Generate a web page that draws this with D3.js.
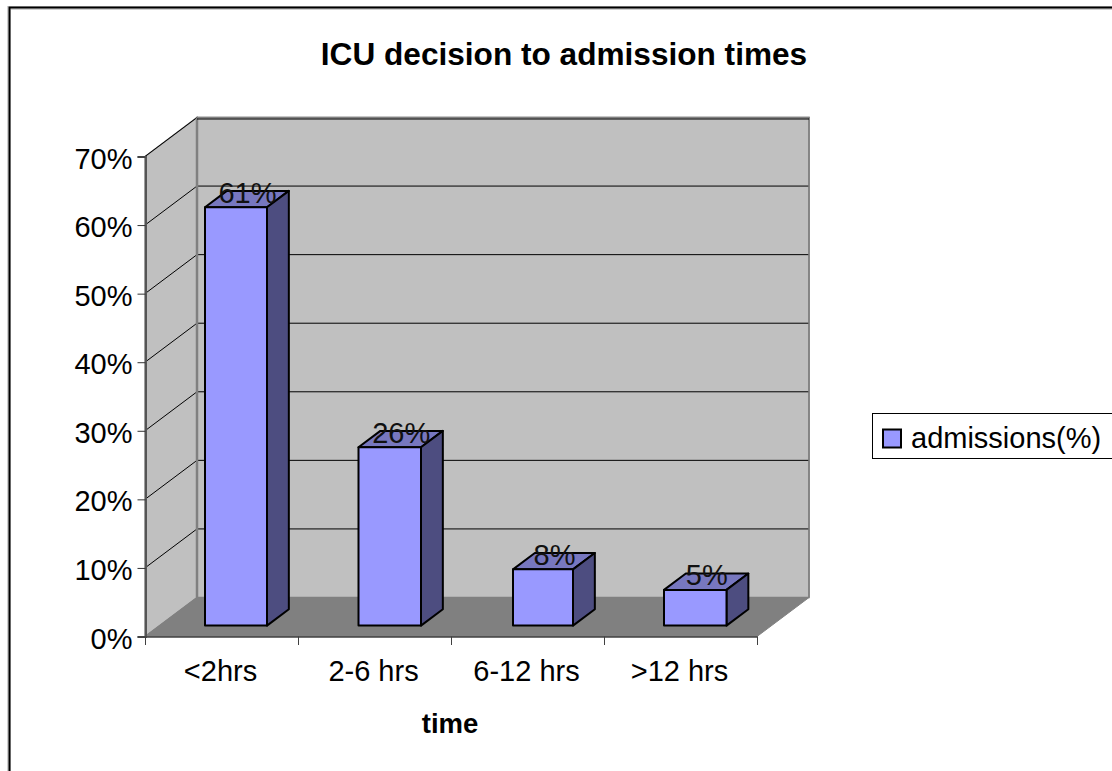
<!DOCTYPE html>
<html><head><meta charset="utf-8">
<style>html,body{margin:0;padding:0;background:#fff}svg{display:block}text{font-family:"Liberation Sans",Arial,sans-serif;fill:#000}</style>
<script src="https://cdn.jsdelivr.net/npm/d3@7/dist/d3.min.js"></script>
</head><body><svg id="c" width="1112" height="771"></svg>
<script>
const categories = ["<2hrs","2-6 hrs","6-12 hrs",">12 hrs"];
const admissions = [61,26,8.2,5.2];
const valueLabels = ["61%","26%","8%","5%"];
const yTicks = [0,10,20,30,40,50,60,70];
const titleText = "ICU decision to admission times";
const xTitle = "time";
const seriesName = "admissions(%)";

const svg = d3.select("#c");
const y = d3.scaleLinear().domain([0,70]).range([636.5,156.5]);
const x = d3.scaleBand().domain(categories).range([145,757]);
const dx = 52, dy = -39;
const line = d3.line();
const P = (px,v,z)=>[px+dx*z, y(v)+dy*z];
const X0=145,X1=757;
const FONT='"Liberation Sans",Arial,sans-serif';

// frame
svg.append("path").attr("d","M9,771V8H1112").attr("fill","none").attr("stroke","#d0d0d0").attr("stroke-width",4);
svg.append("path").attr("d","M9.5,771V7.5H1112").attr("fill","none").attr("stroke","#000").attr("stroke-width",2);

// walls
const wallCol="#c0c0c0", edge="#808080";
svg.append("path").attr("d",line([P(X0,0,1),P(X0,70,1),P(X1,70,1),P(X1,0,1)])+"Z").attr("fill",wallCol).attr("stroke",edge).attr("stroke-width",1.5);
svg.append("path").attr("d",line([P(X0,0,0),P(X0,70,0),P(X0,70,1),P(X0,0,1)])+"Z").attr("fill",wallCol).attr("stroke",edge).attr("stroke-width",1.5);
svg.append("path").attr("d",line([P(X0,0,0),P(X1,0,0),P(X1,0,1),P(X0,0,1)])+"Z").attr("fill","#808080").attr("stroke",edge).attr("stroke-width",1);

// gridlines
yTicks.slice(1).forEach(t=>{
  svg.append("path").attr("d",line([P(X0,t,0),P(X0,t,1),P(X1,t,1)])).attr("fill","none").attr("stroke","#000").attr("stroke-width",1);
});
svg.append("path").attr("d",line([P(X0,0,1),P(X0,70,1)])).attr("stroke",edge).attr("stroke-width",2.5).attr("fill","none");
svg.append("path").attr("d",line([P(X0,70,1),P(X1,70,1),P(X1,0,1)])).attr("stroke",edge).attr("stroke-width",1.5).attr("fill","none");
svg.append("path").attr("d",line([P(X0,70,1),P(X1,70,1)])).attr("stroke","#000").attr("stroke-width",1).attr("fill","none").attr("transform","translate(0,1.5)");

// axes
const yAxis = d3.axisLeft(y).tickValues(yTicks).tickFormat(d=>d+"%").tickSize(8).tickPadding(5);
const gy = svg.append("g").attr("transform","translate(145.5,0)").call(yAxis);
gy.select(".domain").attr("stroke","#555").attr("stroke-width",2);
gy.selectAll(".tick line").attr("stroke","#333");
gy.selectAll("text").attr("dy","11.5px").style("font-size","29px").style("font-family",FONT).attr("fill","#000");

const xAxis = d3.axisBottom(x).tickSize(0).tickPadding(24);
const gx = svg.append("g").attr("transform","translate(0,636.5)").call(xAxis);
gx.select(".domain").attr("stroke","#404040").attr("stroke-width",1.5);
gx.selectAll("text").attr("dx","-1px").style("font-size","29px").style("font-family",FONT).attr("fill","#000");
[...categories.map(c=>x(c)),X1].forEach(px=>{
  svg.append("path").attr("d",line([[px+.5,636.5],[px+.5,645]])).attr("stroke","#404040").attr("stroke-width",1);
});

// bars
const zF=0.28, zB=0.70;
const barW=[62,62.5,60,62.5];
const barOff=[60,60.5,62,60];
categories.forEach((c,i)=>{
  const v=admissions[i];
  const x0=x(c)+barOff[i]-dx*zF, x1=x0+barW[i];
  const g=svg.append("g").attr("stroke","#000").attr("stroke-width",2).attr("stroke-linejoin","round");
  g.append("path").attr("d",line([P(x0,v,zF),P(x1,v,zF),P(x1,v,zB),P(x0,v,zB)])+"Z").attr("fill","#7777bf");
  g.append("path").attr("d",line([P(x1,0,zF),P(x1,v,zF),P(x1,v,zB),P(x1,0,zB)])+"Z").attr("fill","#4d4d80");
  g.append("path").attr("d",line([P(x0,0,zF),P(x1,0,zF),P(x1,v,zF),P(x0,v,zF)])+"Z").attr("fill","#9999ff");
  const top=P((x0+x1)/2,v,zF);
  svg.append("text").text(valueLabels[i]).attr("x",top[0]+11.5).attr("y",top[1]-4.5).attr("text-anchor","middle").style("font-size","29px").style("fill","#111");
});

// titles
svg.append("text").text(titleText).attr("x",564).attr("y",65).attr("text-anchor","middle").style("font-size","31.6px").style("font-weight","bold");
svg.append("text").text(xTitle).attr("x",450).attr("y",733).attr("text-anchor","middle").style("font-size","27.5px").style("font-weight","bold");

// legend
svg.append("rect").attr("x",872.5).attr("y",413.5).attr("width",240).attr("height",45).attr("fill","#fff").attr("stroke","#000").attr("stroke-width",1);
svg.append("rect").attr("x",883).attr("y",429.5).attr("width",18).attr("height",18).attr("fill","#9999ff").attr("stroke","#000").attr("stroke-width",2);
svg.append("text").text(seriesName).attr("x",911).attr("y",448).style("font-size","29px");
</script></body></html>
